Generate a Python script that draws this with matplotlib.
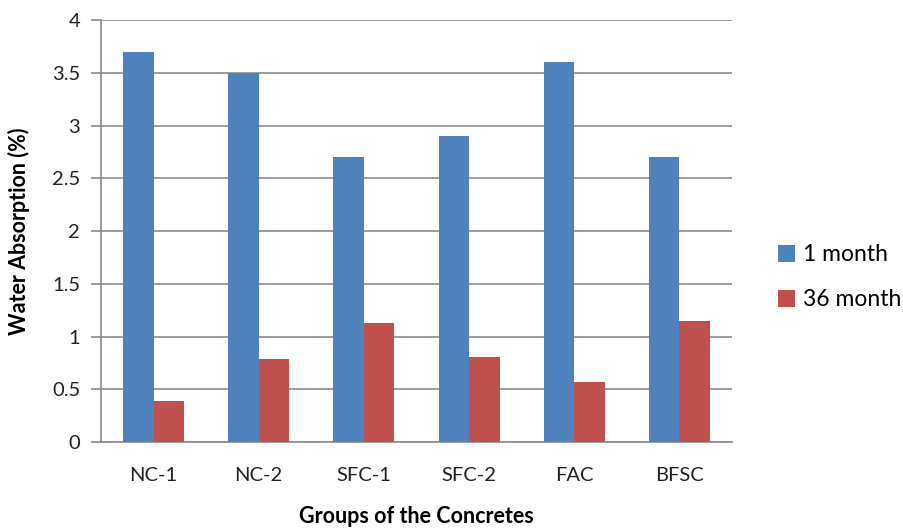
import matplotlib
matplotlib.use("Agg")
from matplotlib import pyplot as plt
import numpy as np

groups = ['NC-1', 'NC-2', 'SFC-1', 'SFC-2', 'FAC', 'BFSC']
one_month = [3.7, 3.5, 2.7, 2.9, 3.6, 2.7]
month_36 = [0.39, 0.79, 1.13, 0.81, 0.57, 1.15]

plt.rcParams['font.family'] = ['Lato', 'DejaVu Sans']

fig = plt.figure(figsize=(9.04, 5.31), dpi=100)
ax = fig.add_axes([0.1117, 0.1676, 0.6980, 0.7947])

x = np.arange(len(groups))
w = 0.29
ax.bar(x - w/2, one_month, w, color='#4f81bd', label='1 month', zorder=3)
ax.bar(x + w/2, month_36, w, color='#c0504d', label='36 month', zorder=3)

ax.set_xlim(-0.5, len(groups) - 0.5)
ax.set_ylim(0, 4)
ax.set_yticks(np.arange(0, 4.01, 0.5))
ax.set_yticklabels(['0', '0.5', '1', '1.5', '2', '2.5', '3', '3.5', '4'])
ax.set_xticks(x)
ax.set_xticklabels(groups)
ax.grid(axis='y', color='#8c8c8c', linewidth=1.2, zorder=0)

for s in ['top', 'right']:
    ax.spines[s].set_visible(False)
ax.spines['left'].set_color('#8c8c8c')
ax.spines['bottom'].set_color('#8c8c8c')
ax.spines['left'].set_linewidth(1.2)
ax.spines['bottom'].set_linewidth(1.2)

ax.tick_params(axis='y', length=7, color='#8c8c8c', width=1.2, labelsize=14.5, pad=8, labelcolor='#222222')
ax.tick_params(axis='x', length=0, labelsize=14.5, pad=18, labelcolor='#222222')

ax.set_xlabel('Groups of the Concretes', fontsize=15.5, fontweight='bold', labelpad=16)
ax.set_ylabel('Water Absorption (%)', fontsize=15.5, fontweight='bold', labelpad=16)

ax.legend(loc='center left', bbox_to_anchor=(1.04, 0.39), frameon=False, fontsize=16.5,
          handlelength=0.75, handleheight=0.75, handletextpad=0.35, labelspacing=1.05)

fig.savefig('out.png', dpi=100)
